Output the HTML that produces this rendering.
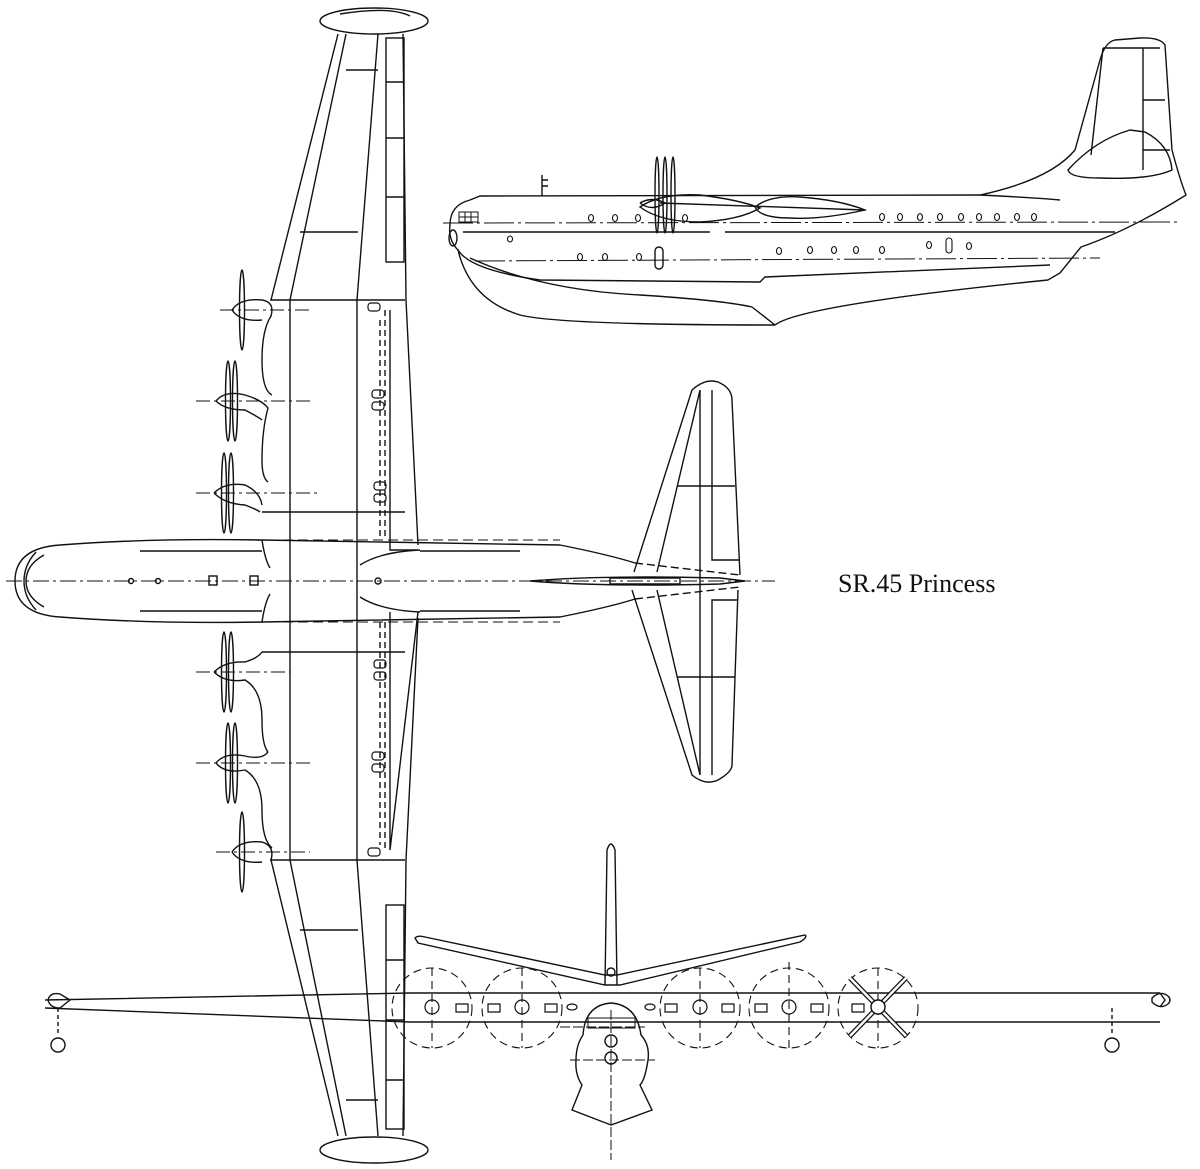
<!DOCTYPE html>
<html><head><meta charset="utf-8"><style>
html,body{margin:0;padding:0;background:#fff;}
svg{display:block;}
text{font-family:"Liberation Serif",serif;}
</style></head><body>
<svg width="1200" height="1169" viewBox="0 0 1200 1169" xmlns="http://www.w3.org/2000/svg" fill="none" stroke="#111" stroke-width="1.4">
<!-- ===== TOP VIEW : WING ===== -->
<ellipse cx="374" cy="21" rx="54" ry="13"/>
<path d="M340 14 Q390 6 410 16"/>
<ellipse cx="374" cy="1150" rx="54" ry="13"/>
<!-- upper wing -->
<path d="M338 34 L271 300"/>
<path d="M346 34 L290 300 L290 860 L346 1136"/>
<path d="M378 34 L357 300 L357 860 L378 1136"/>
<path d="M403 34 L406 300 L418 545"/>
<path d="M418 618 L406 860 L403 1136"/>
<path d="M338 1136 L271 860"/>
<path d="M346 70 L378 70 M300 232 L358 232 M300 930 L358 930 M346 1100 L378 1100"/>
<rect x="386" y="38" width="18" height="224"/>
<path d="M386 82 L404 82 M386 138 L404 138 M386 197 L404 197"/>
<rect x="386" y="905" width="18" height="224"/>
<path d="M386 960 L404 960 M386 1020 L404 1020 M386 1080 L404 1080"/>
<path d="M270 300 L405 300 M262 512 L405 512 M262 652 L405 652 M270 860 L405 860"/>
<!-- flap dashed -->
<path d="M385 310 L385 540 M385 622 L385 850" stroke-dasharray="6 4"/>
<path d="M390 310 L390 550 L418 550 M390 612 L390 850 L418 612" />
<!-- fuselage -->
<path d="M60 545 Q150 538 262 540 L560 545 Q610 555 635 563"/>
<path d="M60 617 Q150 624 262 622 L560 617 Q610 607 635 599"/>
<path d="M60 545 Q15 548 15 581 Q15 614 60 617"/>
<path d="M44 555 Q26 565 26 581 Q26 597 44 607"/>
<path d="M36 552 Q24 565 24 581 Q24 597 36 610"/>
<path d="M140 551 L262 551 M140 611 L262 611"/>
<path d="M420 551 L520 551 M420 611 L520 611"/>
<path d="M262 540 Q265 560 270 568 M262 622 Q265 602 270 594"/>
<path d="M360 565 Q380 552 420 550 M360 597 Q380 610 420 612"/>
<path d="M6 581 L775 581" stroke-dasharray="16 4 3 4" stroke-width="1"/>
<circle cx="131" cy="581" r="2.5"/><circle cx="158" cy="581" r="2.5"/>
<rect x="209" y="576" width="8" height="9"/><rect x="250" y="576" width="8" height="9"/>
<circle cx="378" cy="581" r="3"/>
<path d="M268 540 L560 540" stroke-dasharray="10 5" stroke-width="1"/>
<path d="M268 622 L560 622" stroke-dasharray="10 5" stroke-width="1"/>
<!-- nacelles + props -->
<g id="nac">
<path d="M232 310 Q240 298 262 300 Q275 302 271 316 Q262 330 262 360 Q262 390 272 395"/>
<path d="M232 310 Q240 322 262 320"/>
<path d="M220 310 L310 310" stroke-dasharray="14 4 3 4" stroke-width="1"/>
<ellipse cx="242" cy="310" rx="2.5" ry="40"/>
</g>
<path d="M216 401 Q225 390 245 395 Q262 400 268 408 Q262 430 262 460 Q262 478 268 482 M216 401 Q225 410 245 410 Q260 418 262 420"/>
<path d="M196 401 L310 401" stroke-dasharray="14 4 3 4" stroke-width="1"/>
<ellipse cx="228" cy="401" rx="2.5" ry="40"/><ellipse cx="235" cy="401" rx="2.5" ry="40"/>
<path d="M214 493 Q225 482 245 485 Q260 492 262 505 M214 493 Q225 504 245 505 Q258 510 260 512"/>
<path d="M196 493 L318 493" stroke-dasharray="14 4 3 4" stroke-width="1"/>
<ellipse cx="224" cy="493" rx="2.5" ry="40"/><ellipse cx="231" cy="493" rx="2.5" ry="40"/>
<path d="M214 672 Q225 661 245 662 Q258 658 262 652 M214 672 Q225 683 245 680 Q262 690 262 720 Q262 745 268 752"/>
<path d="M196 672 L290 672" stroke-dasharray="14 4 3 4" stroke-width="1"/>
<ellipse cx="224" cy="672" rx="2.5" ry="40"/><ellipse cx="231" cy="672" rx="2.5" ry="40"/>
<path d="M216 763 Q225 752 245 756 Q262 760 268 752 M216 763 Q225 774 245 770 Q262 780 262 810 Q262 840 272 848"/>
<path d="M196 763 L310 763" stroke-dasharray="14 4 3 4" stroke-width="1"/>
<ellipse cx="228" cy="763" rx="2.5" ry="40"/><ellipse cx="235" cy="763" rx="2.5" ry="40"/>
<path d="M232 852 Q240 840 262 842 Q275 846 271 860 M232 852 Q240 864 262 862"/>
<path d="M216 852 L310 852" stroke-dasharray="14 4 3 4" stroke-width="1"/>
<ellipse cx="242" cy="852" rx="2.5" ry="40"/>
<!-- gear details -->
<g stroke-width="1.2">
<rect x="368" y="303" width="12" height="8" rx="3"/>
<rect x="372" y="390" width="12" height="8" rx="3"/><rect x="372" y="402" width="12" height="8" rx="3"/>
<rect x="374" y="482" width="12" height="8" rx="3"/><rect x="374" y="494" width="12" height="8" rx="3"/>
<rect x="374" y="660" width="12" height="8" rx="3"/><rect x="374" y="672" width="12" height="8" rx="3"/>
<rect x="372" y="752" width="12" height="8" rx="3"/><rect x="372" y="764" width="12" height="8" rx="3"/>
<rect x="368" y="848" width="12" height="8" rx="3"/>
</g>
<path d="M380 320 L380 540 M380 622 L380 845" stroke-dasharray="6 4"/>
<!-- tailplane top -->
<path d="M634 572 L692 390 Q705 378 718 382 Q732 388 732 400 L740 575"/>
<path d="M632 590 L692 775 Q705 786 718 780 Q732 772 732 765 L738 590"/>
<path d="M657 572 L700 390 M657 590 L700 775 M700 390 L700 775 M712 390 L712 560 L740 560 M712 775 L712 600 L738 600"/>
<path d="M677 486 L735 486 M677 677 L735 677"/>
<path d="M530 581 Q600 575 720 578 L745 581 L720 584 Q600 587 530 581"/>
<path d="M610 578 L680 578 L680 584 L610 584 Z"/>
<path d="M635 563 L740 575 M635 599 L740 587" stroke-dasharray="8 4"/>
<!-- ===== SIDE VIEW ===== -->
<path d="M470 200 Q450 205 450 225 Q448 240 458 250 Q470 300 520 315 Q560 325 775 325 Q800 305 1048 280 L1060 273 L1081 247 Q1130 230 1186 195 Q1180 180 1172 150 L1165 45 Q1160 37 1140 38 L1115 40 Q1105 42 1100 60 L1075 150 Q1050 180 980 195 L480 196 Z"/>
<path d="M458 250 Q470 270 540 280 L760 282 L765 277 L1050 265"/>
<path d="M752 307 Q720 300 640 295 Q540 290 470 258"/>
<path d="M752 307 L775 325"/>
<path d="M1103 48 L1160 48 M1143 48 L1143 170 M1143 100 L1165 100 M1091 155 L1103 48"/>
<path d="M1068 170 Q1095 140 1130 130 L1145 132 Q1170 145 1172 170 Q1150 180 1100 178 Q1070 178 1068 170 Z"/>
<path d="M1143 150 L1170 150"/>
<path d="M980 195 Q1040 198 1060 200"/>
<path d="M640 207 Q660 193 700 195 Q740 200 760 208 Q740 220 700 222 Q660 222 640 207 Z"/>
<path d="M755 207 Q770 195 800 197 Q840 200 865 210 Q820 220 790 218 Q760 218 755 207 Z"/>
<path d="M660 203 L865 210"/>
<path d="M640 203 Q652 196 665 203 Q652 212 640 203"/>
<ellipse cx="657" cy="195" rx="2" ry="38"/><ellipse cx="665" cy="195" rx="2" ry="38"/><ellipse cx="673" cy="195" rx="2" ry="38"/>
<rect x="655" y="247" width="8" height="22" rx="4"/>
<path d="M542 196 L542 175 M542 180 L548 180 M542 186 L548 186"/>
<path d="M443 223 L1180 222" stroke-dasharray="30 4 3 4" stroke-width="1"/>
<path d="M463 232 L710 232 M725 232 L1115 232" stroke-width="1.5"/>
<path d="M475 261 L1100 258" stroke-dasharray="30 4 3 4" stroke-width="1"/>
<ellipse cx="453" cy="238" rx="4" ry="8"/>
<path d="M459 212 L478 212 L478 222 L459 222 Z M465 212 L465 222 M471 212 L471 222 M459 217 L478 217" stroke-width="1"/>
<g stroke-width="1.1">
<ellipse cx="591" cy="218" rx="2.5" ry="3.5"/><ellipse cx="615" cy="218" rx="2.5" ry="3.5"/><ellipse cx="638" cy="218" rx="2.5" ry="3.5"/><ellipse cx="685" cy="218" rx="2.5" ry="3.5"/>
<ellipse cx="882" cy="217" rx="2.5" ry="3.5"/><ellipse cx="900" cy="217" rx="2.5" ry="3.5"/><ellipse cx="920" cy="217" rx="2.5" ry="3.5"/><ellipse cx="940" cy="217" rx="2.5" ry="3.5"/><ellipse cx="961" cy="217" rx="2.5" ry="3.5"/><ellipse cx="979" cy="217" rx="2.5" ry="3.5"/><ellipse cx="997" cy="217" rx="2.5" ry="3.5"/><ellipse cx="1017" cy="217" rx="2.5" ry="3.5"/><ellipse cx="1034" cy="217" rx="2.5" ry="3.5"/>
<ellipse cx="580" cy="257" rx="2.5" ry="3.5"/><ellipse cx="605" cy="257" rx="2.5" ry="3.5"/><ellipse cx="639" cy="257" rx="2.5" ry="3.5"/>
<ellipse cx="779" cy="251" rx="2.5" ry="3.5"/><ellipse cx="810" cy="250" rx="2.5" ry="3.5"/><ellipse cx="834" cy="250" rx="2.5" ry="3.5"/><ellipse cx="856" cy="250" rx="2.5" ry="3.5"/><ellipse cx="882" cy="250" rx="2.5" ry="3.5"/>
<ellipse cx="929" cy="245" rx="2.5" ry="3.5"/><ellipse cx="969" cy="246" rx="2.5" ry="3.5"/>
<rect x="946" y="238" width="6" height="15" rx="3"/>
<ellipse cx="510" cy="239" rx="2.5" ry="3"/>
</g>
<!-- ===== FRONT VIEW ===== -->
<path d="M410 993 L1160 993 M410 1022 L1160 1022"/>
<path d="M45 1000 L410 993 M45 1008 L410 1022 M1160 993 L1165 1000 L1160 1007"/>
<path d="M48 1000 Q50 992 60 994 L70 1000 L60 1008 Q50 1008 48 1000 Z"/>
<path d="M1152 998 Q1160 990 1168 996 Q1172 1000 1168 1004 Q1160 1010 1152 1002 Z"/>
<path d="M58 1008 L58 1035" stroke-dasharray="4 3"/><circle cx="58" cy="1045" r="7"/>
<path d="M1112 1008 L1112 1035" stroke-dasharray="4 3"/><circle cx="1112" cy="1045" r="7"/>
<path d="M415 938 Q418 935 425 937 L605 975 L617 975 L805 935 Q808 937 800 942 L620 985 L605 985 L418 943 Z"/>
<path d="M605 985 L607 850 Q611 838 615 850 L617 985"/>
<circle cx="611" cy="972" r="4"/>
<path d="M583 1035 Q585 1005 611 1003 Q637 1005 641 1035 Q650 1045 648 1060 Q645 1080 640 1085 L652 1110 L611 1125 L572 1110 L582 1085 Q575 1075 576 1060 Q576 1045 583 1035 Z"/>
<path d="M611 1010 L611 1160 M570 1060 L655 1060 M560 1027 L645 1027" stroke-dasharray="10 3" stroke-width="1"/>
<circle cx="611" cy="1041" r="6"/><circle cx="611" cy="1058" r="6"/>
<path d="M588 1018 L635 1018 L635 1028 L588 1028 Z" stroke-width="1"/>
<g stroke-dasharray="8 5" stroke-width="1.1">
<circle cx="432" cy="1008" r="40"/><circle cx="522" cy="1008" r="40"/><circle cx="700" cy="1008" r="40"/><circle cx="789" cy="1008" r="40"/><circle cx="878" cy="1008" r="40"/>
<path d="M432 968 L432 1048 M522 968 L522 1048 M700 968 L700 1048 M789 962 L789 1048 M878 968 L878 1048"/>
</g>
<g stroke-width="1.2">
<circle cx="432" cy="1007" r="7"/><circle cx="522" cy="1007" r="7"/><circle cx="700" cy="1007" r="7"/><circle cx="789" cy="1007" r="7"/><circle cx="878" cy="1007" r="7"/>
<path d="M456 1004 L468 1004 L468 1012 L456 1012 Z M488 1004 L500 1004 L500 1012 L488 1012 Z M545 1004 L557 1004 L557 1012 L545 1012 Z M665 1004 L677 1004 L677 1012 L665 1012 Z M722 1004 L734 1004 L734 1012 L722 1012 Z M755 1004 L767 1004 L767 1012 L755 1012 Z M811 1004 L823 1004 L823 1012 L811 1012 Z M852 1004 L864 1004 L864 1012 L852 1012 Z"/>
<ellipse cx="572" cy="1007" rx="5" ry="3"/><ellipse cx="650" cy="1007" rx="5" ry="3"/>
<path d="M850 978 L906 1036 M850 1036 L906 978" stroke-width="5"/>
<path d="M850 978 L906 1036 M850 1036 L906 978" stroke="#fff" stroke-width="2.5"/>
</g>
<circle cx="878" cy="1007" r="7" fill="#fff"/>
<text x="838" y="592" font-size="26" fill="#111" stroke="none">SR.45 Princess</text>
</svg>
</body></html>
